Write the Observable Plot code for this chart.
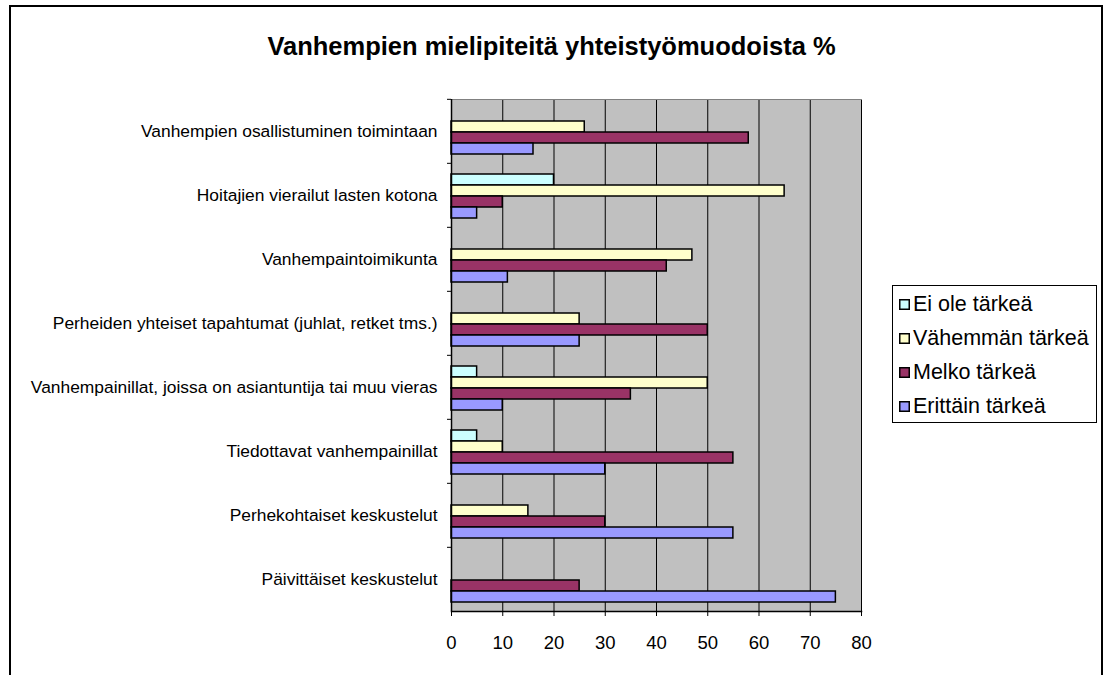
<!DOCTYPE html>
<html>
<head>
<meta charset="utf-8">
<script src="https://cdn.jsdelivr.net/npm/d3@7"></script>
<script src="https://cdn.jsdelivr.net/npm/@observablehq/plot@0.6"></script>
<style>
  html, body { margin: 0; padding: 0; background: #fff; }
  body { width: 1103px; height: 675px; position: relative; overflow: hidden; font-family: "Liberation Sans", Arial, sans-serif; }
  #border { position: absolute; left: 9px; top: 5px; width: 1094px; height: 720px; border: 2px solid #000; box-sizing: border-box; }
  #title { position: absolute; left: 0; top: 34px; width: 1103px; text-align: center; font-weight: bold; font-size: 25.5px; line-height: 25px; color: #000; }
  #chart { position: absolute; left: 0; top: 0; }
  #legend { position: absolute; left: 892px; top: 285px; width: 205px; height: 138px; border: 1px solid #000; box-sizing: border-box; padding-top: 1px; background: #fff; }
  .item { height: 34px; display: flex; align-items: center; font-size: 21.5px; color: #000; white-space: nowrap; }
  .sw { display: block; flex: 0 0 auto; margin-left: 6px; margin-right: 3px; }
</style>
</head>
<body>
<div id="border"></div>
<div id="title"></div>
<div id="chart"></div>
<div id="legend"></div>
<script>
const titleText = "Vanhempien mielipiteitä yhteistyömuodoista %";
const categories = [
  "Vanhempien osallistuminen toimintaan",
  "Hoitajien vierailut lasten kotona",
  "Vanhempaintoimikunta",
  "Perheiden yhteiset tapahtumat (juhlat, retket tms.)",
  "Vanhempainillat, joissa on asiantuntija tai muu vieras",
  "Tiedottavat vanhempainillat",
  "Perhekohtaiset keskustelut",
  "Päivittäiset keskustelut"
];
const series = ["Ei ole tärkeä", "Vähemmän tärkeä", "Melko tärkeä", "Erittäin tärkeä"];
const eiOle     = [0, 20, 0, 0, 5, 5, 0, 0];
const vahemman  = [26, 65, 47, 25, 50, 10, 15, 0];
const melko     = [58, 10, 42, 50, 35, 55, 30, 25];
const erittain  = [16, 5, 11, 25, 10, 30, 55, 75];
const colors = ["#CCFFFF", "#FFFFCC", "#993366", "#9999FF"];
const xTicks = [0, 10, 20, 30, 40, 50, 60, 70, 80];

const values = [eiOle, vahemman, melko, erittain];
const data = [];
categories.forEach((c, i) => {
  series.forEach((s, j) => {
    const v = values[j][i];
    if (v > 0) data.push({category: c, series: s, value: v});
  });
});

document.getElementById("title").textContent = titleText;

const W = 1103, H = 675, mL = 451, mR = 242, mT = 97, mB = 63;
const bandStep = (H - mT - mB) / categories.length;

const chart = Plot.plot({
  width: W, height: H,
  marginLeft: mL, marginRight: mR, marginTop: mT, marginBottom: mB,
  style: {background: "transparent", fontFamily: "'Liberation Sans', Arial, sans-serif", color: "#000", overflow: "visible"},
  x: {domain: [0, 80]},
  y: {domain: series, paddingInner: 0, paddingOuter: 0.8, align: 0.55, axis: null},
  fy: {domain: categories, padding: 0},
  color: {domain: series, range: colors},
  marks: [
    Plot.frame({facet: "super", fill: "#c0c0c0"}),
    Plot.ruleX(xTicks.slice(1), {stroke: "#000", strokeWidth: 1}),
    Plot.frame({facet: "super", anchor: "top", stroke: "#808080", strokeWidth: 1}),
    Plot.barX(data, {x: "value", y: "series", fy: "category", fill: "series", stroke: "#000", strokeWidth: 1.5}),
    Plot.ruleX([0], {stroke: "#000", strokeWidth: 1.5}),
    Plot.frame({facet: "super", anchor: "bottom", stroke: "#000", strokeWidth: 1.5}),
    Plot.axisX({ticks: xTicks, tickSize: 5, tickPadding: 19, fontSize: 18.5, stroke: "#000", fill: "#000", label: null}),
    Plot.axisFy({anchor: "left", tickSize: 0, tickPadding: 14, fontSize: 17.4, fill: "#000", label: null}),
    Plot.axisFy({anchor: "left", tickSize: 4, tickFormat: () => "", dy: -bandStep / 2, stroke: "#000", label: null})
  ]
});
document.getElementById("chart").appendChild(chart);

const legend = document.getElementById("legend");
const NS = "http://www.w3.org/2000/svg";
series.forEach((s, j) => {
  const item = document.createElement("div");
  item.className = "item";
  const sw = document.createElementNS(NS, "svg");
  sw.setAttribute("class", "sw");
  sw.setAttribute("width", "11");
  sw.setAttribute("height", "11");
  const r = document.createElementNS(NS, "rect");
  r.setAttribute("x", "0.75");
  r.setAttribute("y", "0.75");
  r.setAttribute("width", "9.5");
  r.setAttribute("height", "9.5");
  r.setAttribute("fill", colors[j]);
  r.setAttribute("stroke", "#000");
  r.setAttribute("stroke-width", "1.5");
  sw.appendChild(r);
  const t = document.createElement("span");
  t.textContent = s;
  item.appendChild(sw);
  item.appendChild(t);
  legend.appendChild(item);
});
</script>
</body>
</html>
